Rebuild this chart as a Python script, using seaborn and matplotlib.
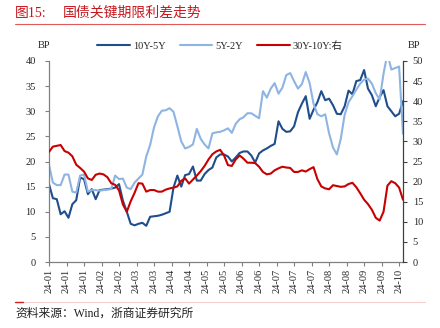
import numpy as np
import pandas as pd
import matplotlib
matplotlib.use("Agg")
import matplotlib.pyplot as plt
from matplotlib.lines import Line2D
import seaborn as sns

# Trading-day index (every second session, Jan–Oct 2024)
day = np.arange(0, 183, 2)

# 10Y-5Y spread, bp (left axis)
b10_5 = [15.5, 12.7, 12.5, 9.5, 10.1, 8.8, 11.5, 12.3, 16.8, 16.5,
         13.5, 14.5, 12.5, 14.3, 14.4, 14.5, 14.6, 14.8, 15.5, 12.2,
         10.0, 7.6, 7.3, 7.6, 7.8, 7.2, 9.0, 9.1, 9.2, 9.4,
         9.7, 10.0, 14.8, 17.2, 15.0, 17.3, 17.5, 19.0, 16.2, 16.2,
         17.5, 18.3, 18.8, 20.8, 21.4, 21.4, 21.0, 20.0, 20.8, 21.7,
         22.0, 22.0, 21.2, 19.8, 21.6, 22.2, 22.6, 23.1, 23.5, 28.0,
         26.5, 25.9, 26.0, 27.0, 29.8, 31.5, 33.0, 28.5, 30.3, 31.8,
         34.0, 32.2, 32.5, 31.2, 29.5, 29.4, 31.0, 34.1, 33.4, 36.0,
         36.2, 38.2, 34.5, 33.2, 31.0, 32.8, 34.2, 31.0, 30.0, 29.0,
         29.5, 32.0]

# 5Y-2Y spread, bp (left axis)
b5_2 = [19.3, 15.8, 15.3, 15.3, 17.4, 17.4, 14.0, 13.8, 17.2, 17.4,
        14.0, 14.3, 14.3, 14.2, 14.3, 14.4, 14.5, 17.2, 16.5, 16.6,
        14.8, 14.5, 15.8, 16.6, 17.4, 21.0, 23.3, 26.8, 29.0, 30.1,
        30.2, 30.6, 29.9, 27.0, 24.0, 22.6, 22.9, 23.4, 26.5, 24.5,
        23.4, 22.6, 25.6, 25.8, 25.9, 26.2, 26.6, 25.7, 27.5, 28.4,
        28.8, 29.6, 29.6, 29.1, 28.6, 34.0, 32.7, 34.5, 35.6, 33.5,
        34.7, 37.2, 37.6, 36.0, 34.5, 35.4, 37.8, 35.6, 31.5, 29.4,
        29.0, 29.4, 25.6, 22.8, 21.4, 24.5, 29.3, 31.8, 33.0, 34.3,
        35.5, 36.3, 36.5, 35.5, 33.6, 32.3, 37.5, 41.5, 38.3, 38.6,
        38.9, 25.5]

# 30Y-10Y spread, bp (right axis)
r30_10 = [27.4, 28.7, 28.9, 29.1, 27.6, 27.2, 26.3, 24.2, 23.4, 22.5,
          20.8, 20.4, 21.7, 22.0, 21.8, 21.1, 19.6, 19.2, 17.8, 14.3,
          12.5, 15.1, 17.2, 19.6, 19.5, 17.5, 17.9, 17.9, 17.5, 17.5,
          18.0, 18.3, 18.5, 18.8, 20.2, 20.8, 19.5, 20.5, 21.5, 22.6,
          23.9, 25.5, 26.8, 27.5, 27.9, 26.5, 24.1, 23.9, 25.5, 26.5,
          25.7, 24.7, 24.7, 24.6, 23.7, 22.4, 21.8, 22.0, 22.8, 23.3,
          23.7, 23.5, 23.4, 22.4, 22.4, 22.8, 22.5, 23.1, 23.6, 20.6,
          18.8, 18.3, 18.1, 19.1, 18.9, 18.7, 18.8, 19.4, 19.7, 18.6,
          17.1, 15.5, 14.4, 13.0, 11.0, 10.3, 12.5, 19.0, 20.1, 19.6,
          18.5, 15.5]

# Category labels, one every 9 sessions
tick_labels = ["24-01", "24-01", "24-01", "24-02", "24-02", "24-03", "24-03",
               "24-04", "24-04", "24-05", "24-05", "24-06", "24-06", "24-07",
               "24-07", "24-07", "24-08", "24-08", "24-09", "24-09", "24-10"]
tick_pos = np.arange(len(tick_labels)) * 9

series_names = ["10Y-5Y", "5Y-2Y", "30Y-10Y:右"]
colors = ["#1F4E8C", "#8EB4E3", "#C80000"]

sns.set_style("white")
plt.rcParams["font.family"] = ["Liberation Serif", "Noto Sans CJK SC"]
plt.rcParams["axes.unicode_minus"] = False

W, H = 440, 328
fig = plt.figure(figsize=(W / 100, H / 100), dpi=100)
fig.patch.set_facecolor("white")

x0, x1, y_top, y_bot = 49, 403, 61, 262
ax = fig.add_axes([x0 / W, 1 - y_bot / H, (x1 - x0) / W, (y_bot - y_top) / H])
ax2 = ax.twinx()

df = pd.DataFrame({"day": day, "b10_5": b10_5, "b5_2": b5_2, "r30_10": r30_10})
sns.lineplot(data=df, x="day", y="b10_5", ax=ax, color=colors[0], lw=1.5,
             label=series_names[0], legend=False)
sns.lineplot(data=df, x="day", y="b5_2", ax=ax, color=colors[1], lw=1.5,
             label=series_names[1], legend=False)
sns.lineplot(data=df, x="day", y="r30_10", ax=ax2, color=colors[2], lw=1.5,
             label=series_names[2], legend=False)

ax.set_xlim(0, 182)
ax.set_ylim(0, 40)
ax2.set_ylim(0, 50)
ax.set_yticks(np.arange(0, 41, 5))
ax2.set_yticks(np.arange(0, 51, 5))
ax.set_xticks(tick_pos)
ax.set_xticklabels(tick_labels, rotation=90)
ax.set_xlabel("")
ax.set_ylabel("")
ax2.set_ylabel("")
ax.grid(False)
ax2.grid(False)

for a in (ax, ax2):
    for s in a.spines.values():
        s.set_visible(False)
ax.spines["left"].set_visible(True)
ax.spines["left"].set_color("#808080")
ax.spines["bottom"].set_visible(True)
ax.spines["bottom"].set_color("#808080")
ax2.spines["right"].set_visible(True)
ax2.spines["right"].set_color("#404040")
for s in ("left", "bottom"):
    ax.spines[s].set_linewidth(0.9)
ax2.spines["right"].set_linewidth(0.9)

ax.tick_params(axis="y", direction="out", length=3, width=0.8, color="#808080",
               labelsize=7.5, pad=6.5, left=True)
ax.tick_params(axis="x", direction="out", length=3, width=0.8, color="#808080",
               labelsize=7.5, pad=2, bottom=True)
ax2.tick_params(axis="y", direction="out", length=3, width=0.8, color="#404040",
                labelsize=7.5, pad=4, right=True)

# Axis unit captions
fig.text(44 / W, 1 - 46 / H, "BP", ha="center", va="center", fontsize=7.5)
fig.text(414 / W, 1 - 46 / H, "BP", ha="center", va="center", fontsize=7.5)

# Legend across the top
handles = [Line2D([0], [0], color=c, lw=1.5) for c in colors]
fig.legend(handles, series_names, loc="center", bbox_to_anchor=(0.5, 1 - 46 / H),
           ncol=3, frameon=False, fontsize=7.5, handlelength=3.1,
           handletextpad=0.3, columnspacing=1.4)

# Header and footer
title_font = ["Liberation Serif", "Noto Sans CJK SC"]
fig.text(15 / W, 1 - 13 / H, "图15:", color="#C8161D", fontsize=10,
         family=title_font, ha="left", va="center")
fig.text(63 / W, 1 - 13 / H, "国债关键期限利差走势", color="#C8161D", fontsize=10,
         family=["Noto Sans CJK SC"], ha="left", va="center")
fig.add_artist(Line2D([15 / W, 425 / W], [1 - 24 / H] * 2, color="#E05A5A", lw=0.8))
fig.add_artist(Line2D([15 / W, 425 / W], [1 - 302 / H] * 2, color="#F6CFCF", lw=0.8))
fig.add_artist(Line2D([15 / W, 23 / W], [1 - 302 / H] * 2, color="#D02020", lw=1.0))
fig.text(15 / W, 1 - 314 / H, "资料来源：Wind，浙商证券研究所", color="#222222",
         fontsize=8.5, family=title_font, ha="left", va="center")

fig.savefig("out.png", dpi=100, facecolor="white")
